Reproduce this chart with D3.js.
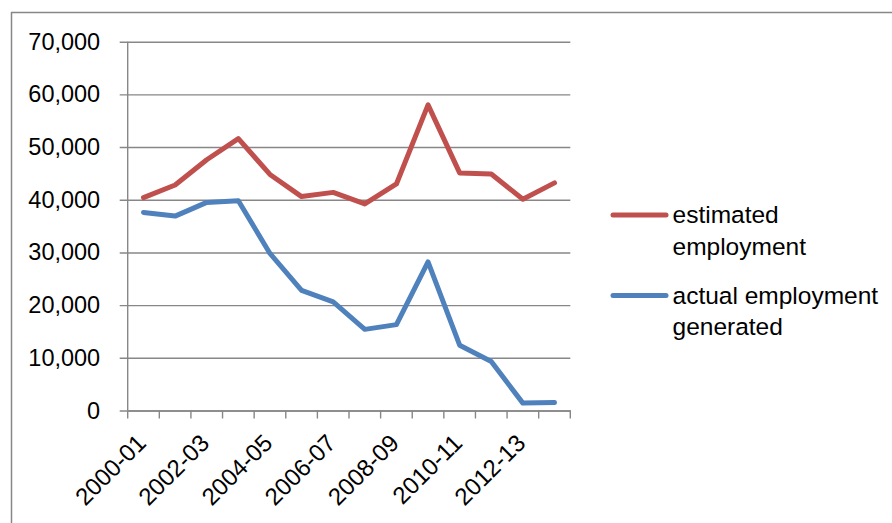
<!DOCTYPE html>
<html>
<head>
<meta charset="utf-8">
<script src="https://cdn.jsdelivr.net/npm/d3@7"></script>
<style>
  html, body { margin: 0; padding: 0; background: #fff; }
  svg { display: block; font-family: "Liberation Sans", Arial, sans-serif; }
</style>
</head>
<body>
<svg id="chart" width="892" height="523"></svg>
<script>
// Fiscal years
const years = ["2000-01","2001-02","2002-03","2003-04","2004-05","2005-06","2006-07",
               "2007-08","2008-09","2009-10","2010-11","2011-12","2012-13","2013-14"];
// Estimated employment
const estimated = [40400, 42800, 47600, 51600, 44800, 40600, 41400, 39200, 43000, 58000, 45100, 44900, 40100, 43200];
// Actual employment generated
const actual = [37600, 36900, 39500, 39800, 29800, 22800, 20600, 15400, 16300, 28200, 12400, 9300, 1400, 1500];
// Y axis ticks
const yTicks = [0, 10000, 20000, 30000, 40000, 50000, 60000, 70000];
// Legend entries
const seriesNames = [["estimated", "employment"], ["actual employment", "generated"]];

const svg = d3.select("#chart");
const gridColor = "#878787";
const colors = ["#C0504D", "#4F81BD"];

// frame around the chart area (left and top edges visible)
svg.append("line").attr("x1", 11.5).attr("x2", 11.5).attr("y1", 12).attr("y2", 523)
  .attr("stroke", gridColor).attr("stroke-width", 1.5);
svg.append("line").attr("x1", 11).attr("x2", 892).attr("y1", 12.5).attr("y2", 12.5)
  .attr("stroke", gridColor).attr("stroke-width", 1.5);

const plotLeft = 127.7, plotRight = 570.3, plotTop = 41.7, plotBottom = 410.5;

const x = d3.scaleBand().domain(years).range([plotLeft, plotRight]).padding(0);
const y = d3.scaleLinear().domain([0, 70000]).range([plotBottom, plotTop]);

// horizontal gridlines with outward ticks
const yAxis = d3.axisLeft(y).tickValues(yTicks).tickSize(-(plotRight - plotLeft)).tickPadding(14)
  .tickFormat(d3.format(","));
const gy = svg.append("g").attr("transform", `translate(${plotLeft},0)`).call(yAxis);
gy.select(".domain").remove();
gy.selectAll(".tick line").attr("stroke", gridColor).attr("stroke-width", 1.4)
  .attr("x1", -8);
gy.selectAll(".tick text").attr("x", -27.5).attr("font-size", 23.5).attr("fill", "#000");

// vertical axis line
svg.append("line").attr("x1", plotLeft).attr("x2", plotLeft).attr("y1", plotTop).attr("y2", plotBottom)
  .attr("stroke", gridColor).attr("stroke-width", 1.4);

// category axis: boundary ticks between bands
const xAxis = d3.axisBottom(x).tickValues([]).tickSizeOuter(0);
const gx = svg.append("g").attr("transform", `translate(0,${plotBottom})`).call(xAxis);
gx.select(".domain").attr("stroke", gridColor).attr("stroke-width", 1.4);
const bounds = years.map(d => x(d)).concat([plotRight]);
gx.selectAll(".bound").data(bounds).enter().append("line")
  .attr("x1", d => d).attr("x2", d => d).attr("y1", 0).attr("y2", 8)
  .attr("stroke", gridColor).attr("stroke-width", 1.4);

// rotated category labels, every other year
const labelYears = years.filter((d, i) => i % 2 === 0);
svg.append("g").selectAll("text").data(labelYears).enter().append("text")
  .attr("transform", d => `translate(${x(d) + x.bandwidth() / 2 - 2},${plotBottom + 28}) rotate(-45)`)
  .attr("text-anchor", "end")
  .attr("dy", "0.35em")
  .attr("font-size", 24)
  .attr("fill", "#000")
  .text(d => d);

// series lines
const line = d3.line().x((d, i) => x(years[i]) + x.bandwidth() / 2).y(d => y(d));
[estimated, actual].forEach((vals, k) => {
  svg.append("path").datum(vals).attr("d", line)
    .attr("fill", "none").attr("stroke", colors[k]).attr("stroke-width", 5)
    .attr("stroke-linejoin", "round").attr("stroke-linecap", "round");
});

// legend
const legendY = [215, 295.5];
seriesNames.forEach((lines, k) => {
  svg.append("line").attr("x1", 613).attr("x2", 666).attr("y1", legendY[k]).attr("y2", legendY[k])
    .attr("stroke", colors[k]).attr("stroke-width", 5).attr("stroke-linecap", "round");
  const t = svg.append("text").attr("x", 672.5).attr("y", legendY[k] + 8)
    .attr("font-size", 24.5).attr("fill", "#000");
  lines.forEach((s, j) => {
    t.append("tspan").attr("x", 672.5).attr("dy", j === 0 ? 0 : 31.5).text(s);
  });
});
</script>
</body>
</html>
